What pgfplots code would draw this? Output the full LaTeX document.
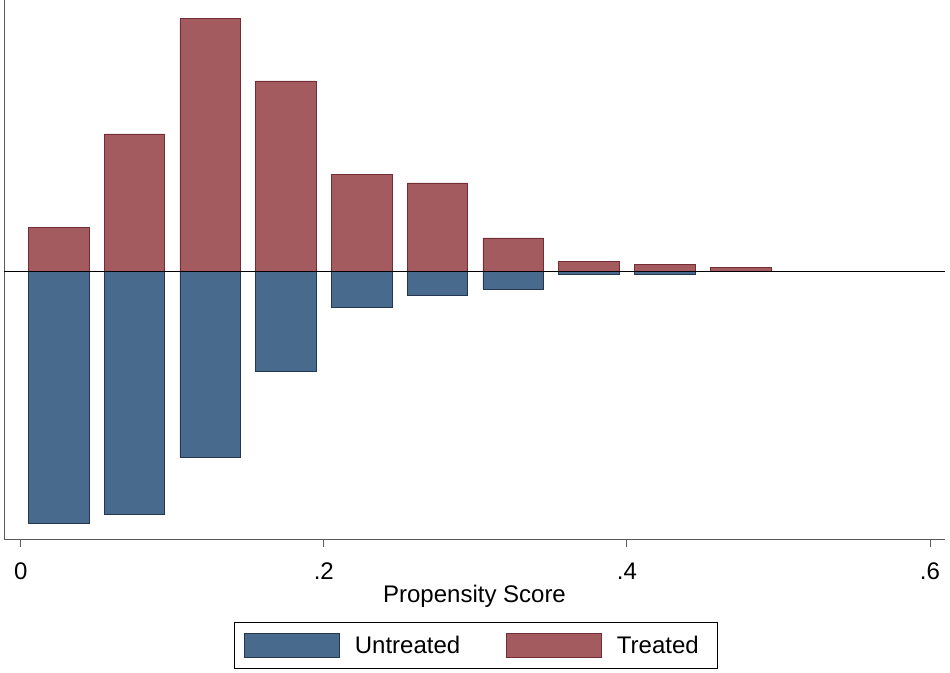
\documentclass[border=0pt]{standalone}
\usepackage{pgfplots}
\pgfplotsset{compat=1.18}
\usepackage{fontspec}
\setmainfont{Liberation Sans}
\definecolor{ubar}{RGB}{72,106,141}
\definecolor{udraw}{RGB}{35,55,80}
\definecolor{tbar}{RGB}{163,91,96}
\definecolor{tdraw}{RGB}{115,45,52}
\definecolor{axgray}{RGB}{90,90,90}
\begin{document}
\begin{tikzpicture}
\begin{axis}[
  scale only axis,
  width=941pt, height=539pt,
  xmin=-0.01102, xmax=0.6099,
  ymin=-268, ymax=271,
  axis x line*=bottom, axis y line*=left,
  axis line style={axgray, line width=0.9pt},
  ytick=\empty,
  xtick={0,0.2,0.4,0.6},
  xticklabels={0,.2,.4,.6},
  tick align=outside,
  major tick length=8pt,
  x tick style={axgray, line width=0.9pt},
  /pgf/number format/assume math mode=true,
  tick label style={font=\fontsize{24}{28}\selectfont},
  xticklabel style={yshift=-12pt},
  xlabel={Propensity Score},
  xlabel style={font=\fontsize{24}{28}\selectfont, at={(axis description cs:0.5,-0.1169)}, anchor=base},
  legend columns=2,
  legend style={at={(axis description cs:0.5016,-0.154)}, anchor=north,
    draw=black, line width=0.8pt, font=\fontsize{24}{28}\selectfont,
    inner xsep=10pt, inner ysep=10.5pt,
    nodes={inner sep=0pt},
    /tikz/every odd column/.append style={column sep=15pt},
    /tikz/every even column/.append style={column sep=46pt}},
  legend image code/.code={\draw[#1, line width=0.6pt] (0pt,-12pt) rectangle (95pt,12pt);},
]
\addplot[ybar, bar width=0.04, bar shift=0pt, fill=ubar, draw=udraw, line width=0.6pt]
  coordinates {(0.025,-252.3) (0.075,-243) (0.125,-186.3) (0.175,-100) (0.225,-36) (0.275,-24) (0.325,-18) (0.375,-3) (0.425,-3)};
\addlegendentry{Untreated}
\addplot[ybar, bar width=0.04, bar shift=0pt, fill=tbar, draw=tdraw, line width=0.6pt]
  coordinates {(0.025,43.3) (0.075,137) (0.125,252.3) (0.175,190) (0.225,96.7) (0.275,88) (0.325,33) (0.375,9.3) (0.425,6.7) (0.475,3.7)};
\addlegendentry{Treated\hspace*{9pt}}
\addplot[black, line width=0.9pt, forget plot] coordinates {(-0.01102,0) (0.6099,0)};
\end{axis}
\pgfresetboundingbox
\path[use as bounding box] (-4pt,-133pt) rectangle (946pt,539pt);
\end{tikzpicture}
\end{document}
